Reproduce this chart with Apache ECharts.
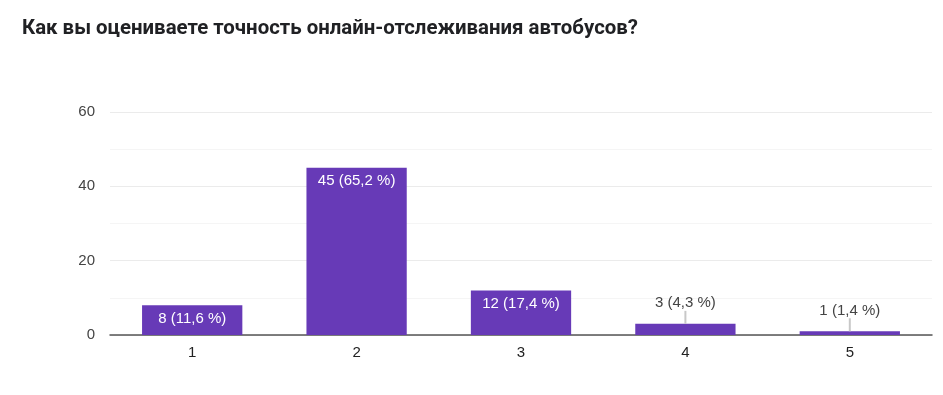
<!DOCTYPE html>
<html><head><meta charset="utf-8">
<script src="https://cdn.jsdelivr.net/npm/echarts@6/dist/echarts.min.js"></script>
<style>html,body{margin:0;padding:0;background:#fff}#c{width:943px;height:395px}</style>
</head><body><div id="c"></div>
<script>
const title = 'Как вы оцениваете точность онлайн-отслеживания автобусов?';
const categories = ['1', '2', '3', '4', '5'];
const counts = [8, 45, 12, 3, 1];
const percents = ['11,6', '65,2', '17,4', '4,3', '1,4'];
const yTicks = [0, 20, 40, 60];

const outside = [false, false, false, true, true];
const chart = echarts.init(document.getElementById('c'));
chart.setOption({
  animation: false,
  title: {text: title, left: 17, top: 14, textStyle: {fontFamily: 'Roboto', fontWeight: 'bold', fontSize: 20.4, color: '#202124'}},
  grid: {left: 110, right: 11, top: 112, bottom: 60},
  xAxis: {
    type: 'category', data: categories,
    axisLine: {lineStyle: {color: '#555', width: 1.5}},
    axisTick: {show: false},
    axisLabel: {fontFamily: 'Liberation Sans', fontSize: 15, color: '#222', margin: 10}
  },
  yAxis: {
    type: 'value', min: yTicks[0], max: yTicks[yTicks.length - 1], interval: 20,
    axisLine: {show: false}, axisTick: {show: false},
    axisLabel: {fontFamily: 'Liberation Sans', fontSize: 15, color: '#444', margin: 15},
    splitLine: {lineStyle: {color: '#ebebeb'}},
    minorTick: {show: false, splitNumber: 2},
    minorSplitLine: {show: true, lineStyle: {color: '#f5f5f5'}}
  },
  series: [{
    type: 'bar', barWidth: '61%', z: 2,
    data: counts.map((v, i) => ({
      value: v,
      label: outside[i]
        ? {position: 'top', distance: 13, color: '#444'}
        : {position: 'insideTop', distance: 6, color: '#fff'}
    })),
    itemStyle: {color: '#673ab7'},
    label: {
      show: true, fontFamily: 'Liberation Sans', fontSize: 15,
      formatter: p => counts[p.dataIndex] + ' (' + percents[p.dataIndex] + ' %)'
    }
  }, {
    type: 'custom', z: 3, silent: true,
    data: counts.map((v, i) => [i, v, outside[i] ? 1 : 0]),
    renderItem: (params, api) => {
      if (!api.value(2)) return null;
      const p = api.coord([api.value(0), api.value(1)]);
      return {type: 'line', shape: {x1: p[0], y1: p[1], x2: p[0], y2: p[1] - 13},
        style: {stroke: '#c8c8c8', lineWidth: 2}};
    }
  }]
});
</script></body></html>
